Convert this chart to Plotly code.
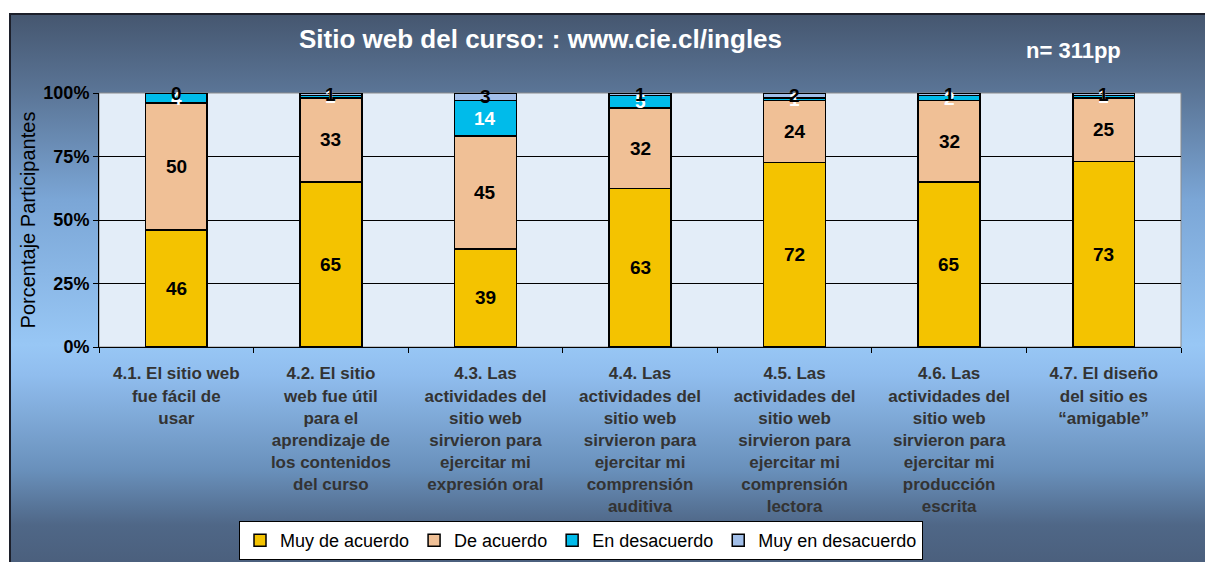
import base64
import plotly.graph_objects as go

# ---------------- data ----------------
categories = ["4.1", "4.2", "4.3", "4.4", "4.5", "4.6", "4.7"]
tick_labels = [
    "4.1. El sitio web<br>fue fácil de<br>usar",
    "4.2. El sitio<br>web fue útil<br>para el<br>aprendizaje de<br>los contenidos<br>del curso",
    "4.3. Las<br>actividades del<br>sitio web<br>sirvieron para<br>ejercitar mi<br>expresión oral",
    "4.4. Las<br>actividades del<br>sitio web<br>sirvieron para<br>ejercitar mi<br>comprensión<br>auditiva",
    "4.5. Las<br>actividades del<br>sitio web<br>sirvieron para<br>ejercitar mi<br>comprensión<br>lectora",
    "4.6. Las<br>actividades del<br>sitio web<br>sirvieron para<br>ejercitar mi<br>producción<br>escrita",
    "4.7. El diseño<br>del sitio es<br>“amigable”",
]
muy_de_acuerdo = [46, 65, 39, 63, 72, 65, 73]
de_acuerdo = [50, 33, 45, 32, 24, 32, 25]
en_desacuerdo = [4, 1, 14, 5, 1, 2, 1]
muy_en_desacuerdo = [0, 1, 3, 1, 2, 1, 1]
series_names = ["Muy de acuerdo", "De acuerdo", "En desacuerdo", "Muy en desacuerdo"]
y_tick_vals = [0, 25, 50, 75, 100]
y_tick_text = ["0%", "25%", "50%", "75%", "100%"]

# ---------------- styles ----------------
FONT = "Liberation Sans, Arial, sans-serif"
colors = ["#f4c300", "#f0c096", "#00bbea", "#a2bfe9"]
label_colors = ["black", "black", "white", "black"]
series = [muy_de_acuerdo, de_acuerdo, en_desacuerdo, muy_en_desacuerdo]

W, H = 1213, 562
OFF = 8  # page body margin in the browser
ML, MT = 99 - OFF, 93 - OFF
PW, PH = 1082, 254
MR, MB = W - ML - PW, H - MT - PH


def px_x(px):
    return (px - OFF - ML) / PW


def px_y(py):
    return (H - MB - (py - OFF)) / PH


fig = go.Figure()
for name, vals, col in zip(series_names, series, colors):
    fig.add_trace(go.Bar(
        x=categories, y=vals, name=name,
        marker=dict(color=col, line=dict(color="black", width=1.5)),
        hoverinfo="name+y",
    ))

# data labels (centered in each normalized segment)
totals = [sum(v) for v in zip(*series)]
annotations = []
cum = [0] * len(categories)
for vals, lc in zip(series, label_colors):
    for j, v in enumerate(vals):
        center = (cum[j] + v / 2) / totals[j] * 100
        annotations.append(dict(
            x=j, y=center, xref="x", yref="y", text=str(v),
            showarrow=False, font=dict(family=FONT, size=19, color=lc, weight="bold"),
            xanchor="center", yanchor="middle",
        ))
        cum[j] += v

annotations.append(dict(
    text="Sitio web del curso: : www.cie.cl/ingles", xref="paper", yref="paper",
    x=px_x(540), y=px_y(39), showarrow=False, xanchor="center", yanchor="middle",
    font=dict(family=FONT, size=26, color="white", weight="bold"),
))
annotations.append(dict(
    text="n= 311pp", xref="paper", yref="paper",
    x=px_x(1073), y=px_y(50), showarrow=False, xanchor="center", yanchor="middle",
    font=dict(family=FONT, size=22, color="white", weight="bold"),
))

# background gradient frame (starts at screen x=9, y=13)
fx0, fy0 = 9, 13
bw, bh = W + OFF - fx0, H + OFF - fy0
stops = [(13, "#45566f"), (90, "#5a7495"), (200, "#7ba6d6"), (345, "#98c7f5"),
         (375, "#90bdee"), (470, "#6990bb"), (525, "#4f6787"), (570, "#4a5e7b")]
stop_xml = "".join(
    f'<stop offset="{(y - fy0) / bh:.4f}" stop-color="{c}"/>' for y, c in stops)
svg = (f'<svg xmlns="http://www.w3.org/2000/svg" width="{bw}" height="{bh}" '
       f'viewBox="0 0 {bw} {bh}" preserveAspectRatio="none">'
       f'<defs><linearGradient id="g" x1="0" y1="0" x2="0" y2="1">{stop_xml}'
       f'</linearGradient></defs>'
       f'<rect width="{bw}" height="{bh}" fill="url(#g)"/>'
       f'<line x1="1" y1="0" x2="1" y2="{bh}" stroke="#1c1f2a" stroke-width="2"/>'
       f'<line x1="0" y1="1" x2="{bw}" y2="1" stroke="#1c1f2a" stroke-width="2"/>'
       f'</svg>')
src = "data:image/svg+xml;base64," + base64.b64encode(svg.encode()).decode()

fig.update_layout(
    width=W, height=H, autosize=False,
    margin=dict(l=ML, r=MR, t=MT, b=MB, pad=0, autoexpand=False),
    paper_bgcolor="white", plot_bgcolor="#e3edf8",
    barmode="stack", barnorm="percent", bargap=0.6,
    font=dict(family=FONT, color="black"),
    showlegend=True,
    legend=dict(
        orientation="h", x=px_x(581), xanchor="center", y=px_y(521), yanchor="top",
        bgcolor="white", bordercolor="black", borderwidth=1,
        font=dict(family=FONT, size=18, color="black"), traceorder="normal",
        itemwidth=30,
    ),
    images=[dict(
        source=src, xref="paper", yref="paper", x=px_x(fx0), y=px_y(fy0),
        sizex=bw / PW, sizey=bh / PH, xanchor="left", yanchor="top",
        sizing="stretch", layer="below",
    )],
    shapes=[dict(
        type="rect", xref="paper", yref="paper", x0=0, x1=1, y0=0, y1=1,
        fillcolor="#e3edf8", line=dict(color="#8c8c8c", width=1), layer="below",
    )],
    annotations=annotations,
    xaxis=dict(
        type="category", automargin=False,
        tickmode="array", tickvals=categories, ticktext=tick_labels,
        tickson="boundaries", ticks="outside", ticklen=5, tickcolor="black",
        showline=True, linecolor="black", linewidth=1, showgrid=False,
        tickfont=dict(family=FONT, size=17, color="#333333", weight="bold"),
        ticklabelstandoff=11, tickangle=0,
    ),
    yaxis=dict(
        automargin=False,
        range=[0, 100], tickmode="array", tickvals=y_tick_vals, ticktext=y_tick_text,
        ticks="outside", ticklen=5, tickcolor="black",
        showline=True, linecolor="black", linewidth=1,
        showgrid=True, gridcolor="black", gridwidth=1, zeroline=False,
        tickfont=dict(family=FONT, size=18, color="black", weight="bold"),
        title=dict(text="Porcentaje Participantes", standoff=2,
                   font=dict(family=FONT, size=20, color="black")),
    ),
)

fig.write_html("out.html")
